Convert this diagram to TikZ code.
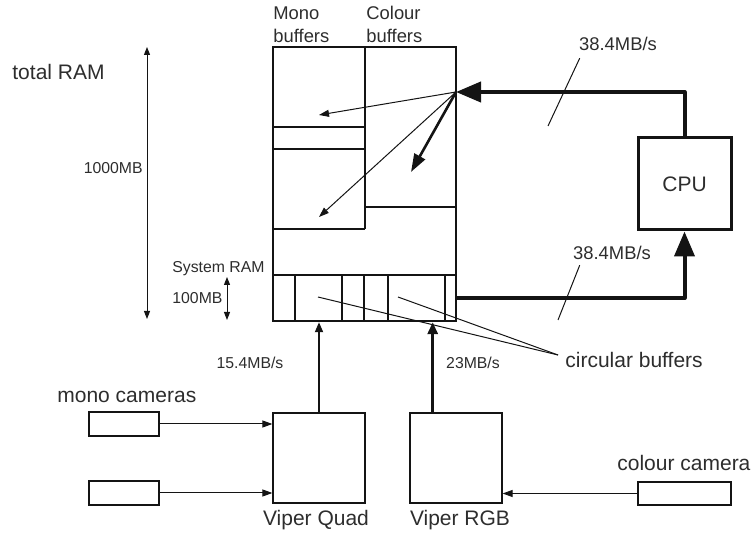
\documentclass[tikz,border=0pt]{standalone}
\usepackage{fontspec}
\setmainfont{Liberation Sans}
\usepackage{tikz}
\usetikzlibrary{arrows.meta, positioning, calc}
\usepackage{xcolor}
\definecolor{inkgray}{RGB}{45,45,45}
\definecolor{linegray}{RGB}{20,20,20}

\begin{document}
\begin{tikzpicture}[x=0.5pt, y=-0.5pt, draw=linegray,
  box/.style={draw=linegray, inner sep=0, line width=0.6pt},
  big/.style={font=\fontsize{10.5}{12}\selectfont, text=inkgray, inner sep=0},
  mid/.style={font=\fontsize{9.2}{11.3}\selectfont, text=inkgray, inner sep=0},
  small/.style={font=\fontsize{7.9}{9}\selectfont, text=inkgray, inner sep=0},
  thinarr/.style={-{Triangle[length=5pt,width=3.5pt]}, line width=0.5pt},
  fatarr/.style={-{Triangle[length=12.5pt,width=10pt]}, line width=2pt, line join=round},
  leader/.style={line width=0.5pt}]
  \useasboundingbox (0,0) rectangle (755,533);
  % memory
  \node[box, minimum width=91.5pt, minimum height=114pt] (ram) at (364.5,161) {};
  \draw[line width=0.6pt] (365,47) -- (365,229) (365,207) -- (456,207);
  \foreach \y in {127,149,229} \draw[line width=0.6pt] (273,\y) -- (365,\y);
  \node[box, line width=1.2pt, minimum width=91.5pt, minimum height=23pt] (sysram) at (364.5,298) {};
  \foreach \x in {295,342,388,445} \draw[line width=0.6pt] (\x,275) -- (\x,321);
  \draw[line width=1.1pt] (364,275) -- (364,321);
  \node[mid, anchor=south west, align=left] (monolbl) at (273,43) {Mono\\buffers};
  \node[mid, anchor=south west, align=left] (collbl) at (366,43) {Colour\\buffers};
  % writes into the buffers
  \coordinate (hub) at (456,92);
  \coordinate (monoA) at (319,115);
  \coordinate (monoB) at (319,217);
  \coordinate (colA) at (411,172);
  \draw[thinarr] (hub) -- (monoA);
  \draw[thinarr] (hub) -- (monoB);
  \draw[-{Triangle[length=9pt,width=6pt]}, line width=1.3pt] (hub) -- (colA);
  % cpu
  \node[box, big, line width=1.5pt, minimum width=46.5pt, minimum height=46pt] (cpu) at (684.5,184) {CPU};
  \draw[fatarr] (cpu.north) |- (hub);
  \draw[fatarr] (sysram.east) -| (cpu.south);
  \node[mid] (rateA) at (618,44) {38.4MB/s};
  \coordinate (tickA) at (548,126);
  \draw[leader] ($(rateA.south west)+(1,7)$) -- (tickA);
  \node[mid] (rateB) at (612,253) {38.4MB/s};
  \coordinate (tickB) at (558,320);
  \draw[leader] ($(rateB.south west)+(7,5)$) -- (tickB);
  % left scale
  \node[big, anchor=west] (totlbl) at (12,72) {total RAM};
  \node[small, anchor=east] (gblbl) at (143,168) {1000MB};
  \node[small, anchor=west] (syslbl) at (172,269) {System RAM};
  \node[small, anchor=west] (mblbl) at (172,298) {100MB};
  \coordinate (totop) at (147,47);
  \coordinate (tobot) at (147,319);
  \coordinate (systop) at (227,277);
  \coordinate (sysbot) at (227,320);
  \draw[{Triangle[length=4pt,width=3pt]}-{Triangle[length=4pt,width=3pt]}, line width=0.5pt] (totop) -- (tobot);
  \draw[{Triangle[length=4pt,width=3pt]}-{Triangle[length=4pt,width=3pt]}, line width=0.5pt] (systop) -- (sysbot);
  % circular buffers
  \node[big, anchor=west] (circlbl) at (565,360) {circular buffers};
  \coordinate (circtip) at ($(circlbl.west)+(-7,-5)$);
  \coordinate (cbmono) at (318,297);
  \coordinate (cbcol) at (398,297);
  \draw[leader] (circtip) -- (cbmono);
  \draw[leader] (circtip) -- (cbcol);
  % grabbers and cameras
  \node[box, minimum width=46pt, minimum height=45pt] (quad) at (319,458) {};
  \node[box, minimum width=46pt, minimum height=45pt] (rgb) at (456,458) {};
  \node[big] (quadlbl) at (316,520) {Viper Quad};
  \node[big] (rgblbl) at (460,520) {Viper RGB};
  \node[box, minimum width=35pt, minimum height=12pt] (cam1) at (124,424) {};
  \node[box, minimum width=35pt, minimum height=12pt] (cam2) at (124,493) {};
  \node[box, minimum width=46.5pt, minimum height=11.5pt] (camc) at (684.5,493.5) {};
  \node[big, anchor=west] (monocam) at (57,397) {mono cameras};
  \node[big, anchor=west] (colcam) at (617,463) {colour camera};
  \draw[thinarr] (cam1) -- (cam1 -| quad.west);
  \draw[thinarr] (cam2) -- (cam2 -| quad.west);
  \draw[thinarr] (camc) -- (camc -| rgb.east);
  \draw[-{Triangle[length=5pt,width=4pt]}, line width=0.9pt] (quad.north) -- (quad.north |- sysram.south);
  \coordinate (rgbin) at ($(rgb.north west)!0.25!(rgb.north east)$);
  \draw[-{Triangle[length=6pt,width=5pt]}, line width=1.5pt] (rgbin) -- (rgbin |- sysram.south);
  \node[small] (quadrate) at (250,363) {15.4MB/s};
  \node[small] (rgbrate) at (473,363) {23MB/s};
\end{tikzpicture}
\end{document}
